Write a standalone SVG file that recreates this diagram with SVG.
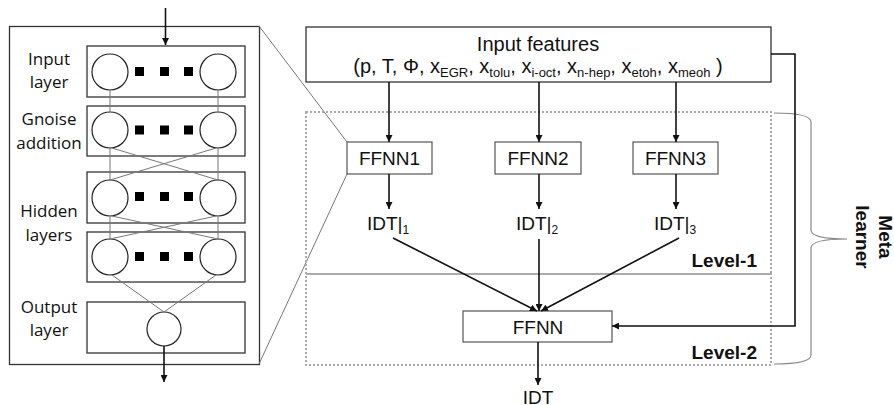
<svg xmlns="http://www.w3.org/2000/svg" width="894" height="405" viewBox="0 0 894 405">
<defs>
<marker id="ah" viewBox="0 0 10 10" refX="10" refY="5" markerWidth="7" markerHeight="7" markerUnits="userSpaceOnUse" orient="auto">
<path d="M0,0 L10,5 L0,10 z" fill="#111"/>
</marker>
<style>
.box{fill:#fff;stroke:#333;stroke-width:1.3}
.nb{fill:#fff;stroke:#555;stroke-width:1.2}
.c{fill:#fff;stroke:#222;stroke-width:1.2}
.sq{fill:#000}
.g{stroke:#777;stroke-width:1;fill:none}
.ar{stroke:#111;stroke-width:1.6;fill:none;marker-end:url(#ah)}
.dot{fill:none;stroke:#aaa;stroke-width:2;stroke-dasharray:2 2}
.lab{font-family:"Open Sans","Liberation Sans",sans-serif;font-size:17px;fill:#111;text-anchor:middle}
.t{font-family:"Liberation Sans",Arial,sans-serif;font-size:19px;fill:#111;text-anchor:middle}
.s{text-anchor:start}
.big{font-size:20px}
.sub{font-size:13px}
.sub2{font-size:12px}
.b{font-family:"Liberation Sans",Arial,sans-serif;font-size:19px;font-weight:bold;fill:#111}
</style>
</defs>
<rect width="894" height="405" fill="#fff"/>

<g id="nn-panel">
<rect class="box" x="9.5" y="26.5" width="250" height="338"/>
<g id="input-layer">
<rect class="box" x="87" y="46" width="158" height="51"/>
<circle class="c" cx="110" cy="72" r="18"/><circle class="c" cx="218" cy="72" r="18"/>
<rect class="sq" x="135" y="67" width="9" height="9"/><rect class="sq" x="160" y="67" width="9" height="9"/><rect class="sq" x="184" y="67" width="9" height="9"/>
<text class="lab" x="49" y="65">Input</text><text class="lab" x="49" y="88">layer</text>
</g>
<g id="gnoise-layer">
<rect class="box" x="87" y="106" width="158" height="50"/>
<circle class="c" cx="110" cy="130" r="18"/><circle class="c" cx="218" cy="130" r="18"/>
<rect class="sq" x="135" y="125.5" width="9" height="9"/><rect class="sq" x="160" y="125.5" width="9" height="9"/><rect class="sq" x="184" y="125.5" width="9" height="9"/>
<text class="lab" x="49" y="125">Gnoise</text><text class="lab" x="49" y="149">addition</text>
</g>
<g id="hidden-layer-1">
<rect class="box" x="87" y="172" width="158" height="51"/>
<circle class="c" cx="110" cy="198" r="18"/><circle class="c" cx="218" cy="198" r="18"/>
<rect class="sq" x="135" y="192" width="9" height="9"/><rect class="sq" x="160" y="192" width="9" height="9"/><rect class="sq" x="184" y="192" width="9" height="9"/>
</g>
<g id="hidden-layer-2">
<rect class="box" x="87" y="232" width="158" height="50"/>
<circle class="c" cx="110" cy="257" r="18"/><circle class="c" cx="218" cy="257" r="18"/>
<rect class="sq" x="135" y="252" width="9" height="9"/><rect class="sq" x="160" y="252" width="9" height="9"/><rect class="sq" x="184" y="252" width="9" height="9"/>
<text class="lab" x="49" y="217">Hidden</text><text class="lab" x="49" y="241">layers</text>
</g>
<g id="output-layer">
<rect class="box" x="87" y="302" width="158" height="51"/>
<circle class="c" cx="164" cy="329" r="17"/>
<text class="lab" x="49" y="313">Output</text><text class="lab" x="49" y="336">layer</text>
</g>
<g id="nn-links">
<path class="g" d="M110,90V112M218,90V112M110,148V180M218,148V180M112,148L218,180M216,148L110,180M110,216V239M218,216V239M112,216L218,239M216,216L110,239M112,275L164,312M216,275L164,312"/>
<path class="ar" d="M165.5,8V45"/>
<path class="ar" d="M164,346V382"/>
</g>
</g>

<g id="zoom-lines">
<path class="g" d="M259,26L347,142M259,364L347,174"/>
</g>

<g id="levels">
<rect class="dot" x="306" y="112" width="465" height="162"/>
<rect class="dot" x="306" y="274" width="465" height="91"/>
<text class="b" x="757" y="267" text-anchor="end">Level-1</text>
<text class="b" x="757" y="359" text-anchor="end">Level-2</text>
</g>

<g id="input-features">
<rect class="box" x="306" y="27" width="465" height="55"/>
<text class="t big" x="538" y="51">Input features</text>
<text class="t big" x="538" y="73">(p, T, Φ, x<tspan class="sub" dy="4">EGR</tspan><tspan dy="-4">, x</tspan><tspan class="sub" dy="4">tolu</tspan><tspan dy="-4">, x</tspan><tspan class="sub" dy="4">i-oct</tspan><tspan dy="-4">, x</tspan><tspan class="sub" dy="4">n-hep</tspan><tspan dy="-4">, x</tspan><tspan class="sub" dy="4">etoh</tspan><tspan dy="-4">, x</tspan><tspan class="sub" dy="4">meoh</tspan><tspan dy="-4"> )</tspan></text>
</g>

<g id="ffnn1"><rect class="nb" x="347" y="142" width="85" height="32"/><text class="t" x="389.5" y="165">FFNN1</text></g>
<g id="ffnn2"><rect class="nb" x="495" y="142" width="86" height="32"/><text class="t" x="538" y="165">FFNN2</text></g>
<g id="ffnn3"><rect class="nb" x="633" y="142" width="85" height="32"/><text class="t" x="675.5" y="165">FFNN3</text></g>

<g id="idt1"><text class="t s" x="367" y="230">IDT|<tspan class="sub2" dy="4">1</tspan></text></g>
<g id="idt2"><text class="t s" x="516" y="230">IDT|<tspan class="sub2" dy="4">2</tspan></text></g>
<g id="idt3"><text class="t s" x="654" y="230">IDT|<tspan class="sub2" dy="4">3</tspan></text></g>

<g id="ffnn-meta"><rect class="nb" x="463" y="311" width="149" height="31"/><text class="t" x="538" y="334">FFNN</text></g>
<g id="idt-out"><text class="t" x="538" y="404">IDT</text></g>

<g id="meta-label">
<path d="M774,113Q811,113 811,122L811,230Q811,239 847,239Q811,239 811,248L811,355Q811,364 774,364" fill="none" stroke="#888" stroke-width="1.2"/>
<g transform="translate(879,237) rotate(90)"><text class="b" x="0" y="0" text-anchor="middle">Meta</text><text class="b" x="0" y="23" text-anchor="middle">learner</text></g>
</g>

<g id="connectors">
<path class="ar" d="M389,82V142"/>
<path class="ar" d="M539,82V142"/>
<path class="ar" d="M676,82V142"/>
<path class="ar" d="M389,174V209"/>
<path class="ar" d="M539,174V209"/>
<path class="ar" d="M676,174V209"/>
<path class="ar" d="M393,238L537,311"/>
<path class="ar" d="M539,239L539,311"/>
<path class="ar" d="M679,238L541,311"/>
<path class="ar" d="M538,342V385"/>
<path class="ar" d="M771,54H795V326H612"/>
</g>
</svg>
